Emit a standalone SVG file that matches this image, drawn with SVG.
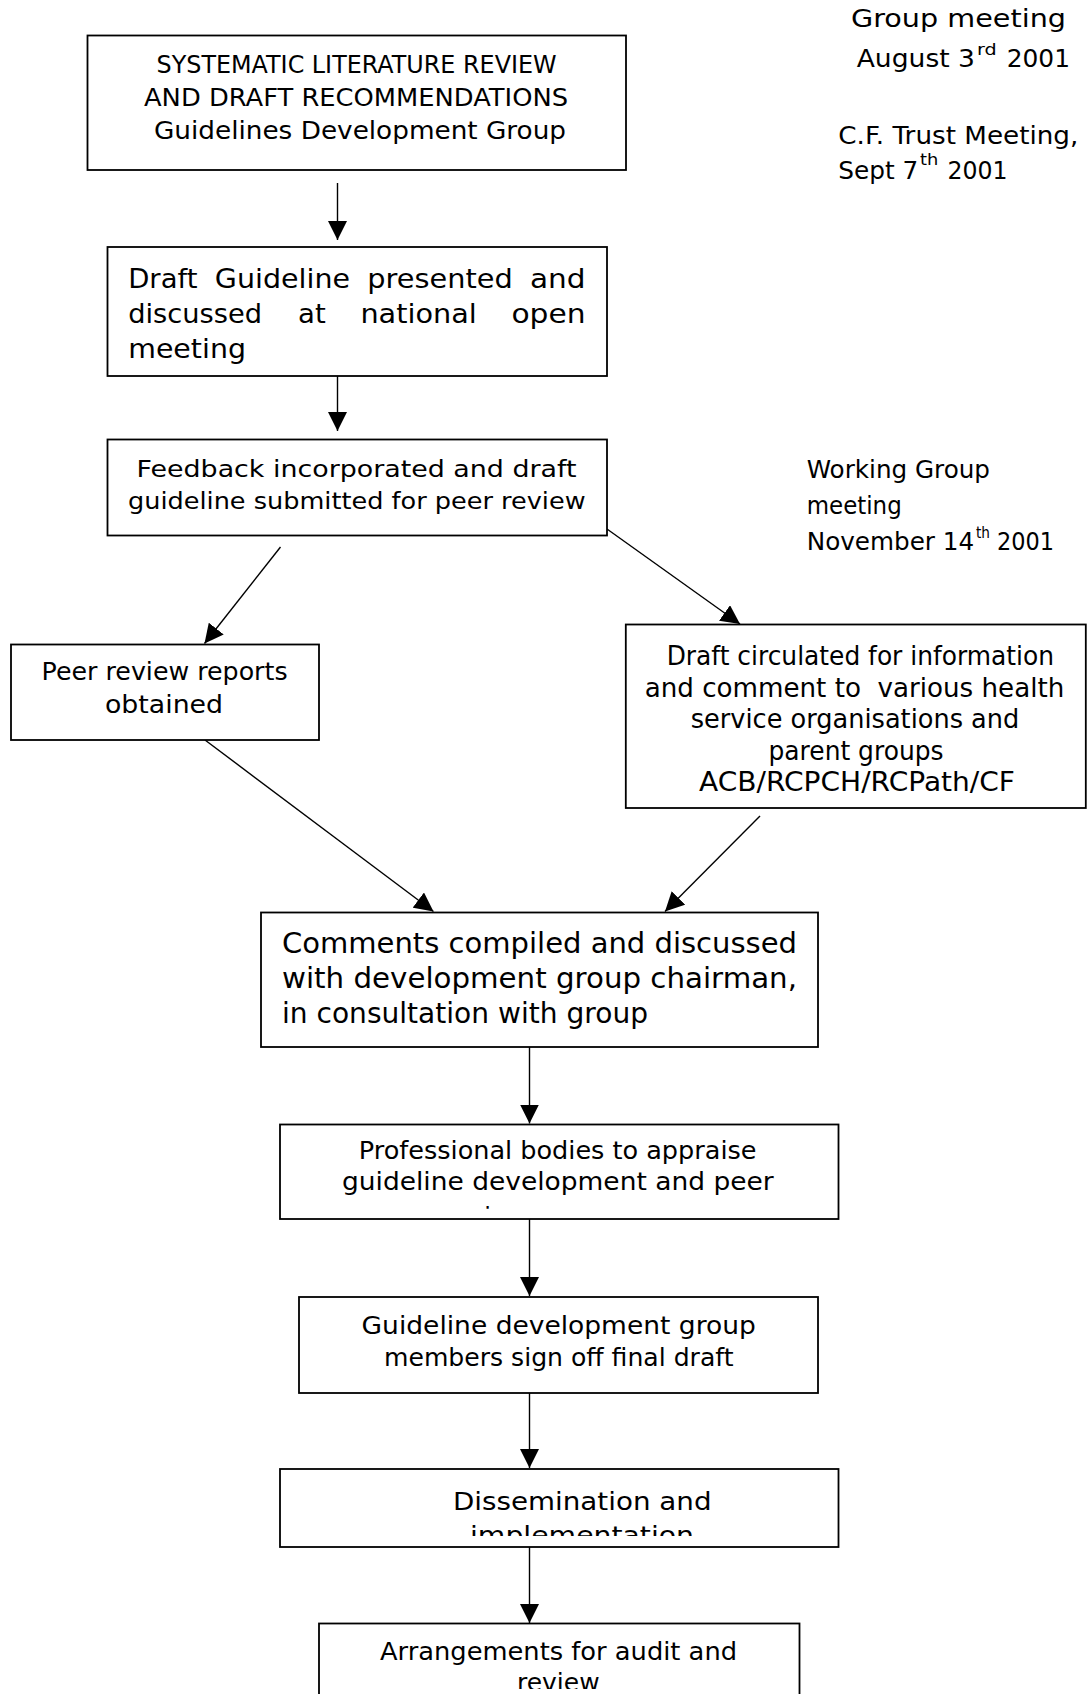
<svg xmlns="http://www.w3.org/2000/svg" width="1087" height="1694" viewBox="0 0 1087 1694">
<style>
  .box { fill: #fff; stroke: #000; stroke-width: 1.8; }
  .edge { fill: none; stroke: #000; stroke-width: 1.4; }
  .t { font-family: "DejaVu Sans", "Liberation Sans", sans-serif; fill: #000; }
  .c { font-family: "DejaVu Sans", "Liberation Sans", sans-serif; fill: #000; }
</style>
<defs>
  <marker id="ah" markerUnits="userSpaceOnUse" viewBox="0 0 19 19" markerWidth="19" markerHeight="19" refX="19" refY="9.5" orient="auto">
    <path d="M0,0 L19,9.5 L0,19 z" fill="#000"/>
  </marker>
  <clipPath id="clip7"><rect x="281" y="1125" width="557" height="85"/></clipPath>
  <clipPath id="clip9"><rect x="281" y="1470" width="557" height="66"/></clipPath>
  <clipPath id="clip10"><rect x="320" y="1624" width="479" height="65"/></clipPath>
</defs>

<g id="connectors">
  <line class="edge" x1="337.5" y1="183" x2="337.5" y2="240" marker-end="url(#ah)"/>
  <line class="edge" x1="337.5" y1="376" x2="337.5" y2="431" marker-end="url(#ah)"/>
  <line class="edge" x1="280.5" y1="547" x2="204.5" y2="643.5" marker-end="url(#ah)"/>
  <line class="edge" x1="607" y1="529" x2="740" y2="624" marker-end="url(#ah)"/>
  <line class="edge" x1="205" y1="740" x2="433.5" y2="911.5" marker-end="url(#ah)"/>
  <line class="edge" x1="760" y1="816" x2="665" y2="911.5" marker-end="url(#ah)"/>
  <line class="edge" x1="529.5" y1="1047" x2="529.5" y2="1123.5" marker-end="url(#ah)"/>
  <line class="edge" x1="529.5" y1="1219" x2="529.5" y2="1296" marker-end="url(#ah)"/>
  <line class="edge" x1="529.5" y1="1393" x2="529.5" y2="1468" marker-end="url(#ah)"/>
  <line class="edge" x1="529.5" y1="1547" x2="529.5" y2="1623" marker-end="url(#ah)"/>
</g>

<g id="node-systematic-review">
  <rect class="box" x="87.5" y="35.5" width="538.5" height="134.5"/>
  <text class="t" font-size="25" x="156.6" y="73" textLength="400" lengthAdjust="spacingAndGlyphs">SYSTEMATIC LITERATURE REVIEW</text>
  <text class="t" font-size="25" x="144" y="106" textLength="424" lengthAdjust="spacingAndGlyphs">AND DRAFT RECOMMENDATIONS</text>
  <text class="t" font-size="25" x="154" y="138.5" textLength="412" lengthAdjust="spacingAndGlyphs">Guidelines Development Group</text>
</g>

<g id="node-draft-presented">
  <rect class="box" x="107.5" y="247" width="499.5" height="129"/>
  <text class="t" font-size="27" y="287.5"><tspan x="128.2" textLength="69.3" lengthAdjust="spacingAndGlyphs">Draft</tspan> <tspan x="214.8" textLength="135.2" lengthAdjust="spacingAndGlyphs">Guideline</tspan> <tspan x="367.3" textLength="145.5" lengthAdjust="spacingAndGlyphs">presented</tspan> <tspan x="530" textLength="55.6" lengthAdjust="spacingAndGlyphs">and</tspan></text>
  <text class="t" font-size="27" y="323.2"><tspan x="128.2" textLength="133.8" lengthAdjust="spacingAndGlyphs">discussed</tspan> <tspan x="298" textLength="27.7" lengthAdjust="spacingAndGlyphs">at</tspan> <tspan x="360.4" textLength="116.4" lengthAdjust="spacingAndGlyphs">national</tspan> <tspan x="511.4" textLength="74.2" lengthAdjust="spacingAndGlyphs">open</tspan></text>
  <text class="t" font-size="27" x="128.2" y="358.2" textLength="117.8" lengthAdjust="spacingAndGlyphs">meeting</text>
</g>

<g id="node-feedback">
  <rect class="box" x="107.5" y="439.5" width="499.5" height="96"/>
  <text class="t" font-size="22.5" x="136.5" y="477" textLength="440" lengthAdjust="spacingAndGlyphs">Feedback incorporated and draft</text>
  <text class="t" font-size="22.5" x="128" y="509" textLength="457.6" lengthAdjust="spacingAndGlyphs">guideline submitted for peer review</text>
</g>

<g id="node-peer-review">
  <rect class="box" x="11" y="644.5" width="308" height="95.5"/>
  <text class="t" font-size="24" x="41.6" y="680" textLength="246" lengthAdjust="spacingAndGlyphs">Peer review reports</text>
  <text class="t" font-size="24" x="105" y="713.3" textLength="118" lengthAdjust="spacingAndGlyphs">obtained</text>
</g>

<g id="node-draft-circulated">
  <rect class="box" x="625.8" y="624.5" width="460" height="183.5"/>
  <text class="t" font-size="26" x="666.7" y="665" textLength="387.3" lengthAdjust="spacingAndGlyphs">Draft circulated for information</text>
  <text class="t" font-size="26" x="644.7" y="696.6" textLength="419.6" lengthAdjust="spacingAndGlyphs" xml:space="preserve">and comment to  various health</text>
  <text class="t" font-size="26" x="690.7" y="728.2" textLength="328.6" lengthAdjust="spacingAndGlyphs">service organisations and</text>
  <text class="t" font-size="26" x="856" y="759.8" text-anchor="middle" textLength="175" lengthAdjust="spacingAndGlyphs">parent groups</text>
  <text class="t" font-size="26" x="857" y="791.4" text-anchor="middle" textLength="316" lengthAdjust="spacingAndGlyphs">ACB/RCPCH/RCPath/CF</text>
</g>

<g id="node-comments">
  <rect class="box" x="261" y="912.5" width="557" height="134.5"/>
  <text class="t" font-size="28" x="282" y="953.3" textLength="515" lengthAdjust="spacingAndGlyphs">Comments compiled and discussed</text>
  <text class="t" font-size="28" x="282" y="988.3" textLength="515" lengthAdjust="spacingAndGlyphs">with development group chairman,</text>
  <text class="t" font-size="28" x="282" y="1022.7" textLength="366" lengthAdjust="spacingAndGlyphs">in consultation with group</text>
</g>

<g id="node-professional-bodies">
  <rect class="box" x="280" y="1124.5" width="558.5" height="94.5"/>
  <text class="t" font-size="24" x="358.8" y="1158.5" textLength="397.7" lengthAdjust="spacingAndGlyphs">Professional bodies to appraise</text>
  <text class="t" font-size="24" x="342" y="1190" textLength="431.7" lengthAdjust="spacingAndGlyphs">guideline development and peer</text>
  <g clip-path="url(#clip7)">
    <text class="t" font-size="24" x="446" y="1225">review process</text>
  </g>
</g>

<g id="node-sign-off">
  <rect class="box" x="299" y="1297" width="519" height="96"/>
  <text class="t" font-size="24" x="361.6" y="1333.5" textLength="394.2" lengthAdjust="spacingAndGlyphs">Guideline development group</text>
  <text class="t" font-size="24" x="384" y="1365.5" textLength="349.5" lengthAdjust="spacingAndGlyphs">members sign off final draft</text>
</g>

<g id="node-dissemination">
  <rect class="box" x="280" y="1469" width="558.5" height="78"/>
  <text class="t" font-size="25.5" x="453" y="1510" textLength="258.5" lengthAdjust="spacingAndGlyphs">Dissemination and</text>
  <g clip-path="url(#clip9)">
    <text class="t" font-size="25.5" x="470" y="1544" textLength="224" lengthAdjust="spacingAndGlyphs">implementation</text>
  </g>
</g>

<g id="node-audit">
  <rect class="box" x="319" y="1623.5" width="480.5" height="120"/>
  <text class="t" font-size="24" x="380" y="1660" textLength="357" lengthAdjust="spacingAndGlyphs">Arrangements for audit and</text>
  <g clip-path="url(#clip10)">
    <text class="t" font-size="24" x="517" y="1691" textLength="82.6" lengthAdjust="spacingAndGlyphs">review</text>
  </g>
</g>

<g id="annotations">
  <text class="t" font-size="25" x="851" y="27.3" textLength="215" lengthAdjust="spacingAndGlyphs">Group meeting</text>
  <text class="c" font-size="24" x="856.7" y="66.7" textLength="118.3" lengthAdjust="spacingAndGlyphs">August 3</text>
  <text class="c" font-size="15" x="977" y="55" textLength="19.7" lengthAdjust="spacingAndGlyphs">rd</text>
  <text class="c" font-size="24" x="1006.7" y="66.7" textLength="63.3" lengthAdjust="spacingAndGlyphs">2001</text>

  <text class="c" font-size="24" x="838.3" y="143.5" textLength="240" lengthAdjust="spacingAndGlyphs">C.F. Trust Meeting,</text>
  <text class="c" font-size="24" x="838.3" y="179" textLength="80" lengthAdjust="spacingAndGlyphs">Sept 7</text>
  <text class="c" font-size="15" x="920" y="165" textLength="18.3" lengthAdjust="spacingAndGlyphs">th</text>
  <text class="c" font-size="24" x="947.5" y="179" textLength="60" lengthAdjust="spacingAndGlyphs">2001</text>

  <text class="c" font-size="24" x="806.7" y="478.3" textLength="183.3" lengthAdjust="spacingAndGlyphs">Working Group</text>
  <text class="c" font-size="24" x="806.7" y="514" textLength="95" lengthAdjust="spacingAndGlyphs">meeting</text>
  <text class="c" font-size="24" x="806.7" y="550" textLength="167.5" lengthAdjust="spacingAndGlyphs">November 14</text>
  <text class="c" font-size="15" x="976" y="537.5" textLength="14" lengthAdjust="spacingAndGlyphs">th</text>
  <text class="c" font-size="24" x="997" y="550" textLength="57" lengthAdjust="spacingAndGlyphs">2001</text>
</g>
</svg>
